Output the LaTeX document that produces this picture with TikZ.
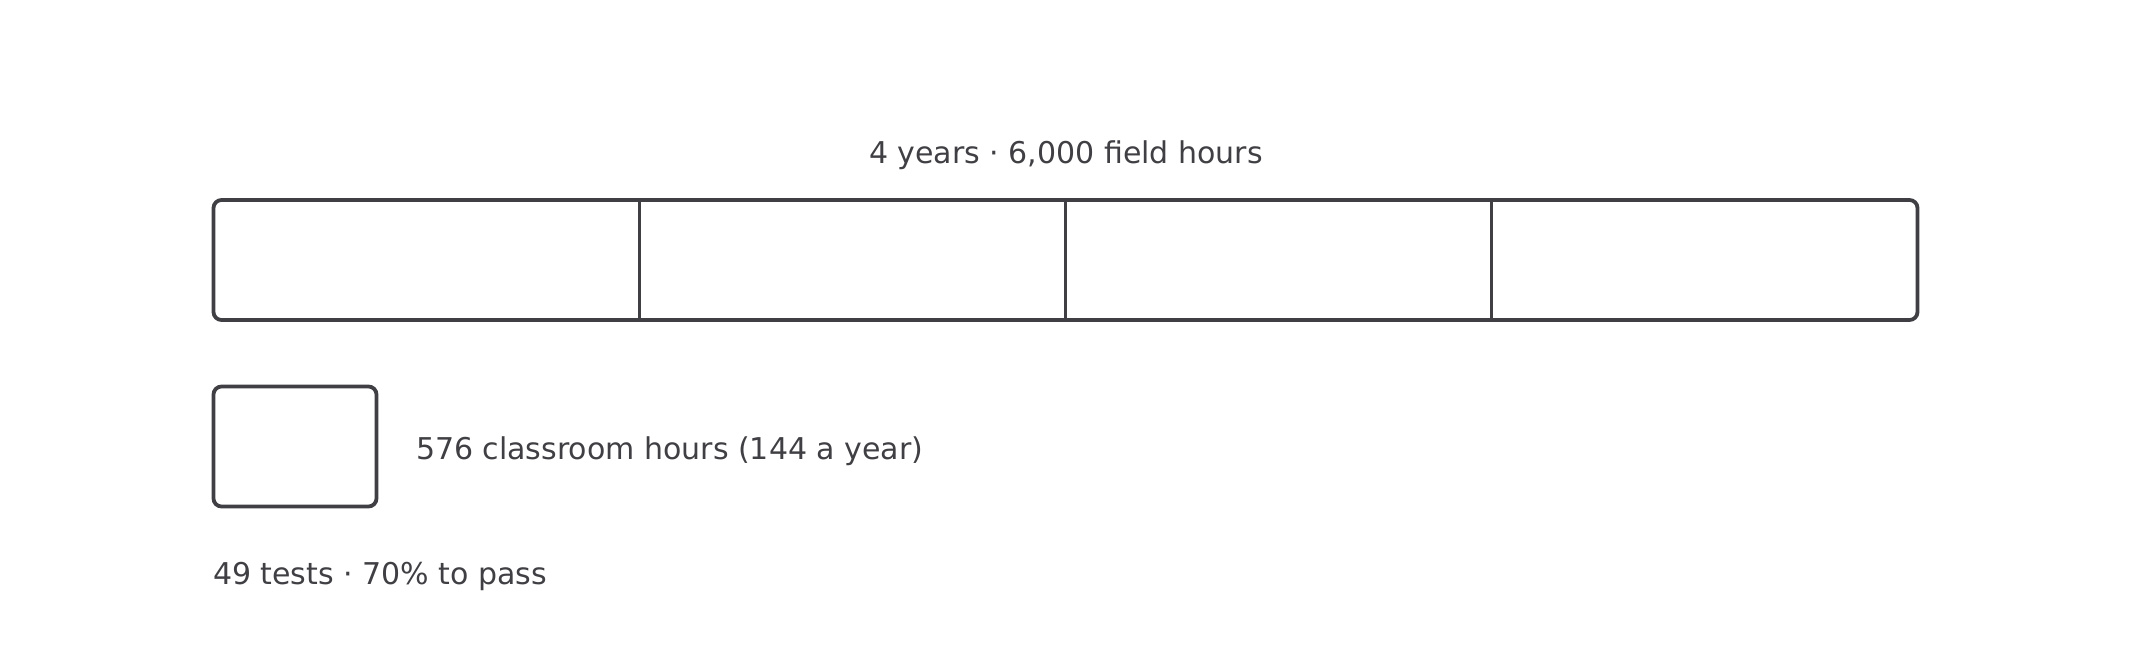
\documentclass[tikz,border=0pt]{standalone}
\usepackage{fontspec}
\setmainfont{DejaVu Sans}
\usetikzlibrary{calc}
\definecolor{ink}{HTML}{3F3F44}
\begin{document}
\begin{tikzpicture}[x=0.5pt,y=-0.5pt,inner sep=0pt,outer sep=0pt,
yearbar/.style={draw=ink,rectangle,rounded corners=4pt,line width=1.9pt,minimum width=852pt,minimum height=60pt},
classbox/.style={draw=ink,rectangle,rounded corners=4pt,line width=1.9pt,minimum width=81.5pt,minimum height=60pt},
caption/.style={text=ink,font=\fontsize{15}{18}\selectfont}]
\useasboundingbox (0,0) rectangle (2133,653);

\draw (1065.5,260) node[yearbar] (bar) {};
\draw (295,446.5) node[classbox] (class) {};

\draw (1066,155) node[caption] (years) {4 years · 6,000 field hours};
\draw (416,451) node[caption,anchor=west] (hours) {576 classroom hours (144 a year)};
\draw (213,576) node[caption,anchor=west] (tests) {49 tests · 70\% to pass};

\foreach \i in {1,2,3}
  \draw[ink,line width=1.9pt] ($(bar.north west)!\i/4!(bar.north east)$) -- ($(bar.south west)!\i/4!(bar.south east)$);

\end{tikzpicture}
\end{document}
